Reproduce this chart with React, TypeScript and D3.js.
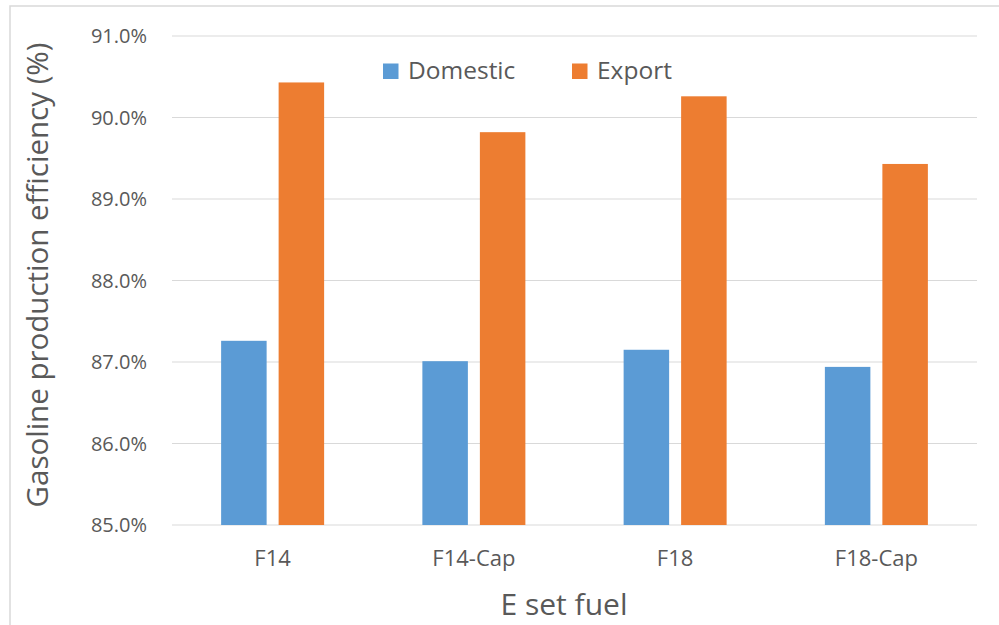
import * as d3 from "d3";

const categories = ["F14", "F14-Cap", "F18", "F18-Cap"];
const domestic = [87.26, 87.01, 87.15, 86.94];
const exportVals = [90.43, 89.82, 90.26, 89.43];
const yTicks = [85, 86, 87, 88, 89, 90, 91];
const seriesNames = ["Domestic", "Export"];
const seriesColors = ["#5b9bd5", "#ed7d31"];

const W = 999;
const H = 625;
const FONT = "'Open Sans', 'Noto Sans', sans-serif";
const TEXT = "#595959";

const App = () => {
  const left = 172;
  const right = 977;
  const top = 36;
  const bottom = 525;

  const x = d3.scaleBand().domain(categories).range([left, right]);
  const y = d3.scaleLinear().domain([85, 91]).range([bottom, top]);

  const barW = 45.5;
  const gap = 12;
  const groupW = barW * 2 + gap;
  const series = [domestic, exportVals];

  return (
    <svg
      width={W}
      height={H}
      style={{ position: "absolute", left: 0, top: 0 }}
      fontFamily={FONT}
    >
      <rect x={0} y={0} width={W} height={H} fill="#fff" />
      <rect x={10} y={6} width={1100} height={800} fill="none" stroke="#d9d9d9" strokeWidth={1.5} />

      {/* gridlines */}
      {yTicks.map((t) => (
        <line key={t} x1={left} x2={right} y1={y(t)} y2={y(t)} stroke="#d9d9d9" strokeWidth={1} />
      ))}

      {/* bars */}
      {series.map((vals, si) =>
        categories.map((c, i) => {
          const bx = x(c)! + (x.bandwidth() - groupW) / 2 + si * (barW + gap);
          return (
            <rect
              key={c + si}
              x={bx}
              y={y(vals[i])}
              width={barW}
              height={y(85) - y(vals[i])}
              fill={seriesColors[si]}
            />
          );
        })
      )}

      {/* y tick labels */}
      {yTicks.map((t) => (
        <text
          key={t}
          x={147}
          y={y(t)}
          dy="0.36em"
          textAnchor="end"
          fontSize={20}
          fill={TEXT}
        >
          {d3.format(".1f")(t) + "%"}
        </text>
      ))}

      {/* x category labels */}
      {categories.map((c) => (
        <text
          key={c}
          x={x(c)! + x.bandwidth() / 2}
          y={566}
          textAnchor="middle"
          fontSize={22}
          fill={TEXT}
        >
          {c}
        </text>
      ))}

      {/* axis titles */}
      <text x={564} y={615} textAnchor="middle" fontSize={30} fill={TEXT}>
        E set fuel
      </text>
      <text
        transform={`translate(48,275) rotate(-90)`}
        textAnchor="middle"
        fontSize={29.5}
        fill={TEXT}
      >
        Gasoline production efficiency (%)
      </text>

      {/* legend */}
      {seriesNames.map((n, i) => {
        const lx = [383, 572][i];
        return (
          <g key={n}>
            <rect x={lx} y={63.5} width={15.5} height={15.5} fill={seriesColors[i]} />
            <text x={lx + 25} y={79} fontSize={24.5} fill={TEXT}>
              {n}
            </text>
          </g>
        );
      })}
    </svg>
  );
};

export default App;
